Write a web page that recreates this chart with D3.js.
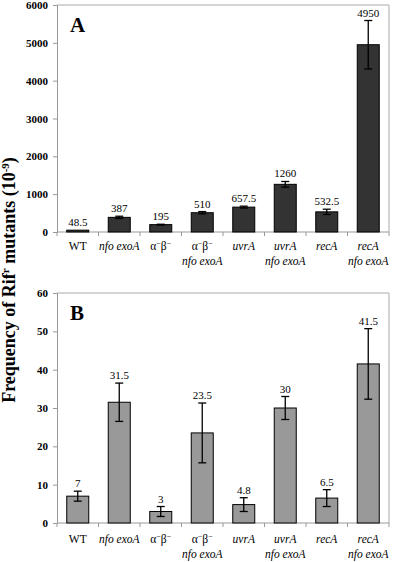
<!DOCTYPE html>
<html><head><meta charset="utf-8">
<script src="https://cdn.jsdelivr.net/npm/d3@7"></script>
<style>body{margin:0;background:#fff}svg{display:block}</style>
</head><body>
<svg id="c" width="400" height="562"></svg>
<script>
const categories = ["WT","nfo exoA","ab","ab nfo exoA","uvrA","uvrA nfo exoA","recA","recA nfo exoA"];
const valuesA = [48.5, 387, 195, 510, 657.5, 1260, 532.5, 4950];
const errorsA = [0, 30, 10, 30, 25, 75, 70, 640];
const labelsA = ["48.5","387","195","510","657.5","1260","532.5","4950"];
const valuesB = [7, 31.5, 3, 23.5, 4.8, 30, 6.5, 41.5];
const errorsB = [1.3, 5, 1.3, 7.8, 1.8, 3, 2.2, 9.2];
const labelsB = ["7","31.5","3","23.5","4.8","30","6.5","41.5"];
const ticksA = [0,1000,2000,3000,4000,5000,6000];
const ticksB = [0,10,20,30,40,50,60];

const svg = d3.select("#c");
const serif = "'Liberation Serif','Times New Roman',serif";
const left = 57, right = 389;
const x = d3.scaleBand().domain(categories).range([left, right]).paddingInner(0).paddingOuter(0);
const barW = 22;

function catLabel(g, c, y) {
  const cx = x(c) + x.bandwidth()/2;
  const t = g.append("text").attr("x", cx).attr("y", y).attr("text-anchor","middle")
    .attr("font-family", serif).attr("font-size", 11.5).attr("fill","#000");
  const ab = (sel) => { sel.append("tspan").text("α"); sel.append("tspan").attr("baseline-shift","super").attr("font-size",8).text("−");
    sel.append("tspan").text("β"); sel.append("tspan").attr("baseline-shift","super").attr("font-size",8).text("−"); };
  const second = () => g.append("text").attr("x", cx).attr("y", y+14.5).attr("text-anchor","middle")
    .attr("font-family", serif).attr("font-size", 11.5).attr("font-style","italic").text("nfo exoA");
  if (c === "WT") t.text("WT");
  else if (c === "nfo exoA") t.attr("font-style","italic").text("nfo exoA");
  else if (c === "ab") ab(t);
  else if (c === "ab nfo exoA") { ab(t); second(); }
  else if (c === "uvrA") t.attr("font-style","italic").text("uvrA");
  else if (c === "uvrA nfo exoA") { t.attr("font-style","italic").text("uvrA"); second(); }
  else if (c === "recA") t.attr("font-style","italic").text("recA");
  else if (c === "recA nfo exoA") { t.attr("font-style","italic").text("recA"); second(); }
}

function panel(top, bottom, maxV, ticks, vals, errs, labs, fill, letter, labelY) {
  const y = d3.scaleLinear().domain([0, maxV]).range([bottom, top]);
  const g = svg.append("g");
  // frame
  g.append("line").attr("x1", left).attr("x2", right).attr("y1", top).attr("y2", top).attr("stroke","#aaa");
  g.append("line").attr("x1", right).attr("x2", right).attr("y1", top).attr("y2", bottom).attr("stroke","#aaa");
  // y axis
  const ya = g.append("g").attr("transform", `translate(${left},0)`)
    .call(d3.axisLeft(y).tickValues(ticks).tickSize(4).tickPadding(5).tickFormat(d3.format("d")));
  ya.select(".domain").attr("stroke","#999");
  ya.selectAll(".tick line").attr("stroke","#999");
  ya.selectAll("text").attr("font-family", serif).attr("font-weight","bold").attr("font-size", 11).attr("fill","#000");
  // x axis
  const xa = g.append("g").attr("transform", `translate(0,${bottom})`);
  xa.append("line").attr("x1", left).attr("x2", right).attr("stroke","#999");
  categories.concat([null]).forEach((c,i) => {
    const xx = c === null ? right : x(c);
    xa.append("line").attr("x1", xx).attr("x2", xx).attr("y1", 0).attr("y2", 4).attr("stroke","#999");
  });
  // bars
  g.selectAll("rect.bar").data(vals).enter().append("rect")
    .attr("x", (d,i) => x(categories[i]) + x.bandwidth()/2 - barW/2)
    .attr("y", d => y(d)).attr("width", barW).attr("height", d => bottom - y(d))
    .attr("fill", fill).attr("stroke","#000").attr("stroke-width",1);
  // errors
  vals.forEach((v,i) => {
    const cx = x(categories[i]) + x.bandwidth()/2;
    const e = errs[i];
    if (e > 0) {
      g.append("line").attr("x1",cx).attr("x2",cx).attr("y1",y(v+e)).attr("y2",y(v-e)).attr("stroke","#000").attr("stroke-width",1.3);
      [v+e, v-e].forEach(w => g.append("line").attr("x1",cx-4).attr("x2",cx+4).attr("y1",y(w)).attr("y2",y(w)).attr("stroke","#000").attr("stroke-width",1.3));
    }
    g.append("text").attr("x", cx).attr("y", y(v+e) - 4).attr("text-anchor","middle")
      .attr("font-family", serif).attr("font-size", 11).attr("fill","#000").text(labs[i]);
  });
  g.append("text").attr("x", left + 13).attr("y", top + 27).attr("font-family", serif)
    .attr("font-weight","bold").attr("font-size", 21).text(letter);
  categories.forEach(c => catLabel(g, c, labelY));
}

panel(5, 232, 6000, ticksA, valuesA, errorsA, labelsA, "#333333", "A", 250);
panel(293, 523, 60, ticksB, valuesB, errorsB, labelsB, "#999999", "B", 543);

const title = svg.append("text").attr("transform","translate(15,280) rotate(-90)").attr("text-anchor","middle")
  .attr("font-family", serif).attr("font-weight","bold").attr("font-size", 18);
title.append("tspan").text("Frequency of Rif");
title.append("tspan").attr("baseline-shift","super").attr("font-size",11).text("r");
title.append("tspan").text(" mutants (10");
title.append("tspan").attr("baseline-shift","super").attr("font-size",11).text("-9");
title.append("tspan").text(")");
</script>
</body></html>
